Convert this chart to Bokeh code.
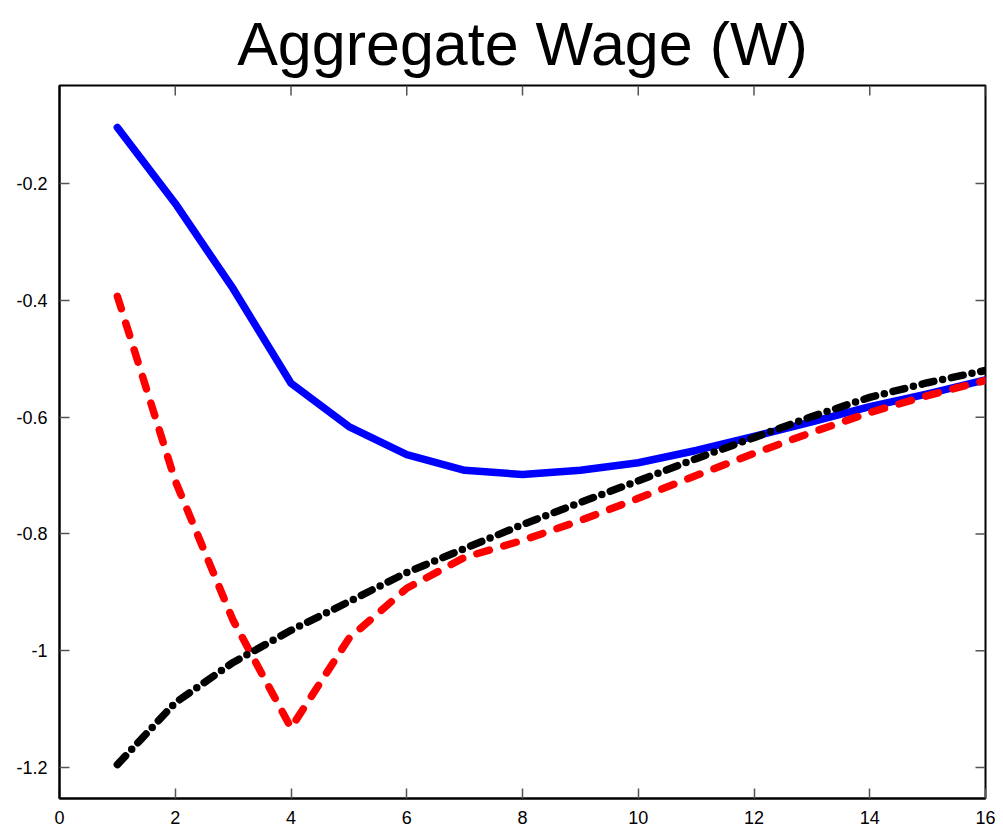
from bokeh.plotting import figure
from bokeh.models import LinearAxis, FixedTicker, Range1d
from bokeh.embed import file_html
from bokeh.resources import INLINE

x = list(range(1, 17))
blue = [-0.104, -0.234, -0.380, -0.542, -0.616, -0.664, -0.691, -0.698,
        -0.691, -0.678, -0.657, -0.633, -0.608, -0.582, -0.560, -0.536]
red = [-0.393, -0.709, -0.948, -1.132, -0.979, -0.893, -0.840, -0.811,
       -0.777, -0.739, -0.700, -0.662, -0.626, -0.592, -0.563, -0.537]
black = [-1.195, -1.089, -1.020, -0.965, -0.916, -0.866, -0.825, -0.784,
         -0.746, -0.709, -0.671, -0.635, -0.599, -0.566, -0.541, -0.520]

xticks = [0, 2, 4, 6, 8, 10, 12, 14, 16]
yticks = [-1.2, -1.0, -0.8, -0.6, -0.4, -0.2]
ylabels = {-1.2: "-1.2", -1.0: "-1", -0.8: "-0.8", -0.6: "-0.6", -0.4: "-0.4", -0.2: "-0.2"}

XMIN, XMAX = 0, 16
YMIN, YMAX = -1.253, -0.032

p = figure(width=1003, height=833, output_backend="svg", toolbar_location=None,
           x_range=Range1d(XMIN, XMAX), y_range=Range1d(YMIN, YMAX),
           x_axis_location=None, y_axis_location=None,
           min_border_left=59, min_border_right=18, min_border_bottom=35, min_border_top=10)
p.title.text = "Aggregate Wage (W)"
p.title.text_font = "Liberation Sans"
p.title.text_font_size = "61px"
p.title.text_font_style = "normal"
p.title.align = "center"
p.title.text_color = "black"
p.title.standoff = 15
p.grid.visible = False
p.outline_line_color = "black"
p.outline_line_width = 2
p.background_fill_color = "white"
p.border_fill_color = "white"

def mk_axis(ticks, overrides=None):
    ax = LinearAxis(ticker=FixedTicker(ticks=ticks))
    ax.major_tick_in = 10
    ax.major_tick_out = 0
    ax.minor_tick_line_color = None
    ax.major_tick_line_color = "#555555"
    ax.major_tick_line_width = 1.5
    ax.axis_line_color = "black"
    ax.axis_line_width = 2
    ax.major_label_text_font = "Liberation Sans"
    ax.major_label_text_font_size = "18px"
    ax.major_label_text_color = "black"
    ax.major_label_standoff = 12
    if overrides:
        ax.major_label_overrides = overrides
    return ax

p.add_layout(mk_axis(xticks), "below")
p.add_layout(mk_axis(yticks, ylabels), "left")

# inward ticks on top and right edges
tick_dx = 10 * (XMAX - XMIN) / 926.0
tick_dy = 10 * (YMAX - YMIN) / 713.0
p.segment(x0=xticks, y0=[YMAX] * len(xticks), x1=xticks, y1=[YMAX - tick_dy] * len(xticks),
          line_color="#555555", line_width=1.5)
p.segment(x0=[XMAX] * len(yticks), y0=yticks, x1=[XMAX - tick_dx] * len(yticks), y1=yticks,
          line_color="#555555", line_width=1.5)

p.line(x, blue, line_color="blue", line_width=7.5, line_cap="round", line_join="round")
p.line(x, red, line_color="red", line_width=7.5, line_cap="round", line_join="round",
       line_dash="13 15")
p.line(x, black, line_color="black", line_width=7.5, line_cap="round", line_join="round",
       line_dash="12 9 0 9")

open("out.html", "w").write(file_html(p, INLINE))
